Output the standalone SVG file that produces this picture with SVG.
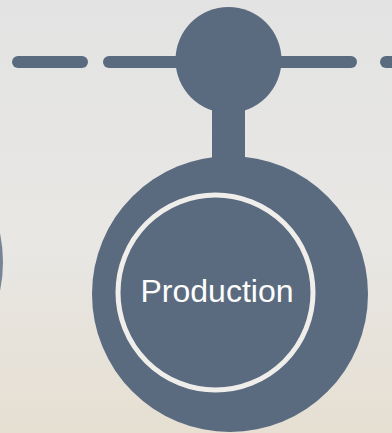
<svg xmlns="http://www.w3.org/2000/svg" width="392" height="433" viewBox="0 0 392 433">
  <defs>
    <linearGradient id="bg" x1="0" y1="0" x2="0" y2="1">
      <stop offset="0" stop-color="#e3e3e3"/>
      <stop offset="0.55" stop-color="#e8e7e4"/>
      <stop offset="1" stop-color="#e6dfd2"/>
    </linearGradient>
    <style>
      .shape { fill: #5a6b80; }
      .dash { stroke: #5a6b80; stroke-width: 12; stroke-linecap: round; fill: none; }
      .ring { fill: none; stroke: #f0eeea; stroke-width: 5; }
      .label { font-family: "Liberation Sans", Arial, sans-serif; font-size: 32px; fill: #ffffff; text-anchor: middle; }
    </style>
  </defs>
  <rect x="0" y="0" width="392" height="433" fill="url(#bg)"/>
  <g id="connectors">
    <line class="dash" x1="18" y1="62" x2="82" y2="62"/>
    <line class="dash" x1="109" y1="62" x2="200" y2="62"/>
    <line class="dash" x1="260" y1="62" x2="351" y2="62"/>
    <line class="dash" x1="386" y1="62" x2="400" y2="62"/>
    <rect class="shape" x="212" y="100" width="33" height="62"/>
  </g>
  <g id="neighbor-left">
    <circle class="shape" cx="-135" cy="262" r="138" opacity="0.8"/>
  </g>
  <g id="top-node">
    <circle class="shape" cx="228.5" cy="60" r="53"/>
  </g>
  <g id="production">
    <circle class="shape" cx="230" cy="294" r="138"/>
    <circle class="ring" cx="215.5" cy="292.5" r="97.5"/>
    <text class="label" x="217" y="302">Production</text>
  </g>
</svg>
